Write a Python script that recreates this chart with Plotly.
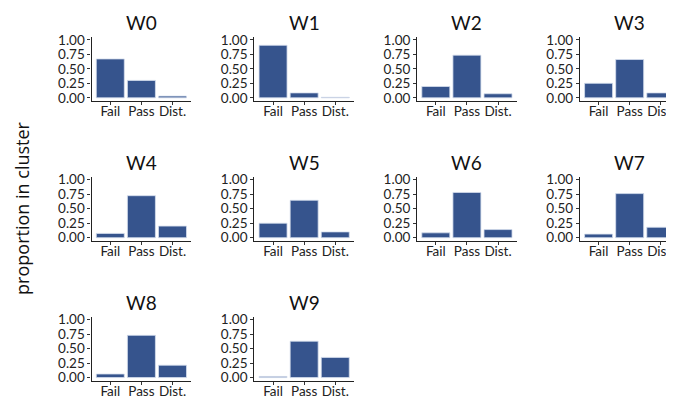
import plotly.graph_objects as go

categories = ["Fail", "Pass", "Dist."]
panels = ["W0", "W1", "W2", "W3", "W4", "W5", "W6", "W7", "W8", "W9"]
fail = [0.67, 0.905, 0.195, 0.25, 0.074, 0.25, 0.084, 0.062, 0.062, 0.02]
pass_ = [0.30, 0.085, 0.735, 0.66, 0.724, 0.645, 0.78, 0.76, 0.728, 0.627]
dist = [0.03, 0.01, 0.07, 0.085, 0.20, 0.10, 0.14, 0.18, 0.213, 0.348]
y_ticks = [0, 0.25, 0.5, 0.75, 1.0]
y_ticklabels = ["0.00", "0.25", "0.50", "0.75", "1.00"]

OFF = 8  # default body margin of the page
W, H = 674 - OFF, 405 - OFF
col_left = [92, 255.5, 419, 582.5]
panel_w = 100
row_bottom = [98, 241.5, 385]
panel_h = 65.5
bar_color = "#36548D"
font_main = "Lato, 'Open Sans', sans-serif"

fig = go.Figure()
layout = dict(
    width=W, height=H, margin=dict(l=0, r=0, t=0, b=0),
    paper_bgcolor="white", plot_bgcolor="white", showlegend=False,
    font=dict(family=font_main, color="#222"),
    annotations=[],
)

for i, name in enumerate(panels):
    r, c = divmod(i, 4)
    k = "" if i == 0 else str(i + 1)
    x0 = col_left[c] - OFF
    x1 = min(x0 + panel_w, W)
    ppu = panel_w / 3.2
    xr_hi = -0.6 + (x1 - x0) / ppu
    yb = row_bottom[r] - OFF
    yt = yb - panel_h
    fig.add_trace(go.Bar(
        x=categories, y=[fail[i], pass_[i], dist[i]],
        xaxis="x" + k, yaxis="y" + k, width=0.9,
        marker=dict(color=bar_color, line=dict(color="#d5deee", width=0.8)),
        hoverinfo="x+y",
    ))
    axcommon = dict(showgrid=False, zeroline=False, showline=True, linecolor="#222",
                    linewidth=1.3, ticks="outside", ticklen=3, tickwidth=1.1,
                    tickcolor="#333", tickfont=dict(size=13.5, family=font_main, color="#222"))
    layout["xaxis" + k] = dict(axcommon, domain=[x0 / W, x1 / W], anchor="y" + k,
                               type="category", range=[-0.6, xr_hi], fixedrange=True,
                               ticklabelstandoff=-5)
    layout["yaxis" + k] = dict(axcommon, domain=[1 - yb / H, 1 - yt / H], anchor="x" + k,
                               range=[-0.05, 1.05], tickvals=y_ticks, ticktext=y_ticklabels,
                               fixedrange=True)
    layout["annotations"].append(dict(
        text=name, x=(x0 + panel_w / 2) / W, y=1 - (yt - 15) / H,
        xref="paper", yref="paper", xanchor="center", yanchor="middle",
        showarrow=False, font=dict(size=19, family=font_main, color="#111"),
    ))

layout["annotations"].append(dict(
    text="proportion in cluster", x=(22 - OFF) / W, y=1 - (208 - OFF) / H,
    xref="paper", yref="paper",
    xanchor="center", yanchor="middle", textangle=-90, showarrow=False,
    font=dict(size=18, family="'Open Sans', sans-serif", color="#111"),
))

fig.update_layout(**layout)
fig.write_html("out.html")
